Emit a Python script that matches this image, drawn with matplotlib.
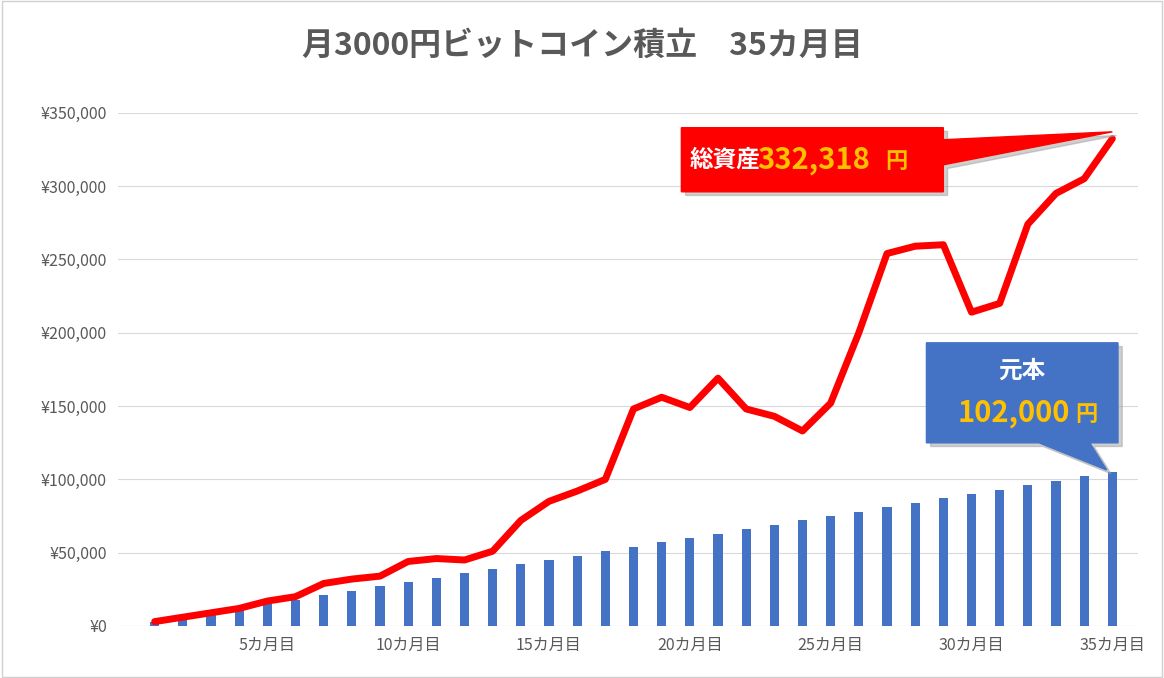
import numpy as np
import matplotlib.pyplot as plt
from matplotlib.patches import Polygon

plt.rcParams['font.family'] = ['Noto Sans CJK JP', 'DejaVu Sans']

months = np.arange(1, 36)
principal = 3000 * months
total = [3000, 6000, 9000, 12000, 17000, 20000, 29000, 32000, 34000, 44000,
         46000, 45000, 51000, 72000, 85000, 92000, 100000, 148000, 156000, 149000,
         169000, 148000, 143000, 133000, 152000, 200000, 254000, 259000, 260000, 214000,
         220000, 274000, 295000, 305000, 332318]
tick_months = [5, 10, 15, 20, 25, 30, 35]
tick_labels = [f'{m}カ月目' for m in tick_months]
y_ticks = np.arange(0, 350001, 50000)

fig = plt.figure(figsize=(11.64, 6.78), dpi=100)
fig.patches.append(plt.Rectangle((0.002, 0.002), 0.996, 0.996, transform=fig.transFigure,
                                 fill=False, edgecolor='#d0d0d0', lw=1))
ax = fig.add_axes([0.1014, 0.0767, 0.876, 0.757])

ax.bar(months, principal, width=0.33, color='#4472C4', zorder=2)
ax.plot(months, total, color='#FF0000', lw=5, solid_capstyle='round',
        solid_joinstyle='round', zorder=3)

ax.set_xlim(-0.3, 35.9)
ax.set_ylim(0, 350000)
ax.set_yticks(y_ticks)
ax.set_yticklabels([f'¥{v:,.0f}' for v in y_ticks], fontsize=11.5, color='#595959')
ax.set_xticks(tick_months)
ax.set_xticklabels(tick_labels, fontsize=11.5, color='#595959')
ax.tick_params(length=0, pad=8)
ax.grid(axis='y', color='#d9d9d9', lw=0.8, zorder=0)
for s in ax.spines.values():
    s.set_visible(False)
ax.axhline(0, color='#d9d9d9', lw=0.8, zorder=1)

fig.text(0.5, 0.932, '月3000円ビットコイン積立　35カ月目', ha='center', va='center',
         fontsize=23, fontweight='bold', color='#595959')

# red callout
red = [(19.7, 339800), (29.0, 339800), (29.0, 331600), (35.0, 337000),
       (29.0, 314500), (29.0, 296100), (19.7, 296100)]
sh = [(x + 0.15, y - 2500) for x, y in red]
ax.add_patch(Polygon(sh, closed=True, color='#a0a0a0', alpha=0.5, zorder=4, clip_on=False))
ax.add_patch(Polygon(red, closed=True, color='#FF0000', zorder=5, clip_on=False))
ax.text(20.0, 318000, '総資産', ha='left', va='center', fontsize=17,
        fontweight='bold', color='white', zorder=6)
ax.text(22.4, 318000, '332,318', ha='left', va='center', fontsize=21,
        fontweight='bold', color='#FFC000', zorder=6, fontstretch='condensed')
ax.text(26.95, 317000, '円', ha='left', va='center', fontsize=16,
        fontweight='bold', color='#FFC000', zorder=6)

# blue callout
blue = [(28.4, 193100), (35.2, 193100), (35.2, 124900), (34.2, 124900),
        (34.8, 106400), (32.4, 124900), (28.4, 124900)]
sh = [(x + 0.15, y - 2500) for x, y in blue]
ax.add_patch(Polygon(sh, closed=True, color='#a0a0a0', alpha=0.5, zorder=4, clip_on=False))
ax.add_patch(Polygon(blue, closed=True, color='#4472C4', zorder=5, clip_on=False))
ax.text(31.8, 174000, '元本', ha='center', va='center', fontsize=17,
        fontweight='bold', color='white', zorder=6)
ax.text(31.5, 145000, '102,000', ha='center', va='center', fontsize=21,
        fontweight='bold', color='#FFC000', zorder=6)
ax.text(33.7, 144000, '円', ha='left', va='center', fontsize=16,
        fontweight='bold', color='#FFC000', zorder=6)

fig.savefig('out.png', dpi=100)
